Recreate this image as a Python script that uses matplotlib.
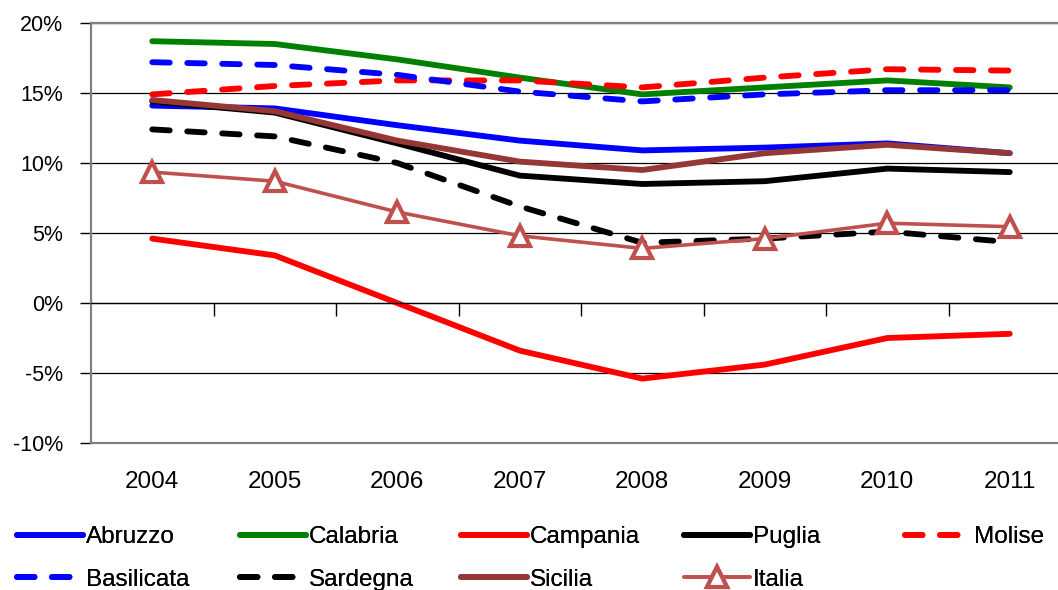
import matplotlib
matplotlib.use("Agg")
import matplotlib.pyplot as plt
from matplotlib.ticker import FixedLocator, FuncFormatter

plt.rcParams['font.family'] = ['Liberation Sans', 'DejaVu Sans']

years = ['2004', '2005', '2006', '2007', '2008', '2009', '2010', '2011']

abruzzo    = [14.1, 13.9, 12.7, 11.6, 10.9, 11.1, 11.4, 10.7]
calabria   = [18.7, 18.5, 17.4, 16.1, 14.9, 15.4, 15.9, 15.4]
campania   = [4.6, 3.4, 0.0, -3.4, -5.4, -4.4, -2.5, -2.2]
puglia     = [14.4, 13.6, 11.4, 9.1, 8.5, 8.7, 9.6, 9.35]
molise     = [14.9, 15.5, 15.9, 15.9, 15.4, 16.1, 16.7, 16.6]
basilicata = [17.2, 17.0, 16.3, 15.1, 14.4, 14.9, 15.2, 15.2]
sardegna   = [12.4, 11.9, 10.0, 6.9, 4.3, 4.6, 5.1, 4.35]
sicilia    = [14.5, 13.7, 11.6, 10.1, 9.5, 10.7, 11.3, 10.7]
italia     = [9.35, 8.7, 6.5, 4.8, 3.9, 4.6, 5.7, 5.45]

W, H = 1058, 590
fig = plt.figure(figsize=(W / 100, H / 100), dpi=100)
ax = fig.add_axes([91 / W, 1 - 443 / H, 980 / W, 420 / H])

x = list(range(len(years)))
LW = 4.2
dash = (3, 3)

series = [
    ('Abruzzo', abruzzo, dict(color='#0000FF', lw=LW)),
    ('Calabria', calabria, dict(color='#008000', lw=LW)),
    ('Campania', campania, dict(color='#FF0000', lw=LW)),
    ('Puglia', puglia, dict(color='#000000', lw=LW)),
    ('Molise', molise, dict(color='#FF0000', lw=LW, dashes=dash, dash_capstyle='round')),
    ('Basilicata', basilicata, dict(color='#0000FF', lw=LW, dashes=dash, dash_capstyle='round')),
    ('Sardegna', sardegna, dict(color='#000000', lw=LW, dashes=dash, dash_capstyle='round')),
    ('Sicilia', sicilia, dict(color='#953735', lw=LW)),
    ('Italia', italia, dict(color='#C0504D', lw=2.6, marker='^', markersize=14,
                            markerfacecolor='white', markeredgecolor='#C0504D',
                            markeredgewidth=3)),
]

handles = {}
for name, vals, style in series:
    (ln,) = ax.plot(x, vals, label=name, solid_capstyle='round', **style)
    handles[name] = ln

ax.set_xlim(-0.5, len(years) - 0.5)
ax.set_ylim(-10, 20)

# y axis: percent labels, black gridlines, grey frame
ax.yaxis.set_major_locator(FixedLocator([-10, -5, 0, 5, 10, 15, 20]))
ax.yaxis.set_major_formatter(FuncFormatter(lambda v, p: f"{v:.0f}%"))
ax.tick_params(axis='y', direction='out', length=8, width=1, color='black',
               labelsize=15.5, pad=12)
ax.yaxis.grid(True, color='black', lw=0.9)
ax.set_axisbelow(True)

for side in ('top', 'bottom', 'left'):
    ax.spines[side].set_color('#808080')
    ax.spines[side].set_linewidth(1.6)
ax.spines['right'].set_visible(False)

# category labels along the bottom edge
ax.set_xticks(x)
ax.set_xticklabels(years)
ax.tick_params(axis='x', length=0, labelsize=17.5, pad=20)

# category axis crossing at 0% with tick marks between categories
ax2 = ax.twiny()
ax2.set_xlim(ax.get_xlim())
ax2.spines['bottom'].set_position(('data', 0))
ax2.spines['bottom'].set_color('black')
ax2.spines['bottom'].set_linewidth(0.9)
for side in ('top', 'left', 'right'):
    ax2.spines[side].set_visible(False)
ax2.xaxis.set_ticks_position('bottom')
ax2.set_xticks([i + 0.5 for i in x[:-1]])
ax2.tick_params(axis='x', direction='out', length=9, width=1, color='black',
                labelbottom=False, labeltop=False)

# legend laid out in five evenly spaced columns, two rows
columns = [('Abruzzo', 'Basilicata'), ('Calabria', 'Sardegna'),
           ('Campania', 'Sicilia'), ('Puglia', 'Italia'), ('Molise',)]
col_x = [17, 240, 461, 684, 905]
for cx, names in zip(col_x, columns):
    leg = fig.legend([handles[n] for n in names], list(names),
                     loc='upper left', bbox_to_anchor=(cx / W, 1 - 526 / H),
                     bbox_transform=fig.transFigure, frameon=False,
                     fontsize=17.5, borderpad=0, borderaxespad=0,
                     handlelength=2.7, handletextpad=0.12, labelspacing=0.85,
                     numpoints=1)
    fig.add_artist(leg)

fig.savefig('out.png', dpi=100)
